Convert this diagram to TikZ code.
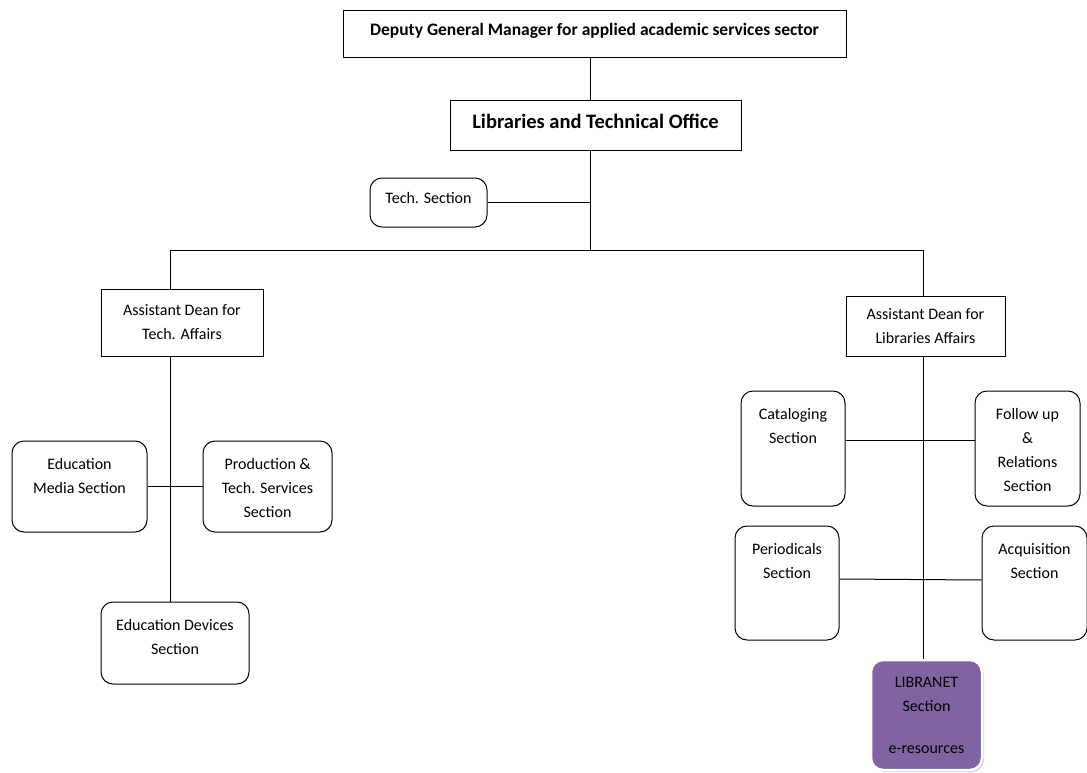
\documentclass[tikz,border=0pt]{standalone}
\usepackage{fontspec}
\setmainfont{Carlito}
\usetikzlibrary{shadows}
\definecolor{libpurple}{HTML}{8064A2}
\tikzset{
  office/.style={draw, line width=1pt, inner sep=0pt},
  section/.style={draw, line width=1pt, rounded corners=12pt, inner sep=0pt},
  toptext/.style={label={[anchor=north, yshift=-18pt, inner sep=0pt, align=center]north:#1}},
  link/.style={line width=1pt}
}
\begin{document}
\begin{tikzpicture}[x=1pt,y=-1pt,font=\fontsize{16}{24}\selectfont]
\useasboundingbox (0,0) rectangle (1087,773);

% top of the chart
\node[office, minimum width=503pt, minimum height=47pt, text depth=10pt, font=\fontsize{17.5}{20}\selectfont\bfseries] (dgm) at (594.5,34.5) {Deputy General Manager for applied academic services sector};
\node[office, minimum width=291pt, minimum height=50pt, text depth=9pt, font=\fontsize{20.5}{24}\selectfont\bfseries] (lto) at (595.5,126) {Libraries and Technical Office};
\node[section, minimum width=117pt, minimum height=49pt, text depth=9pt] (tech) at (428.5,202.5) {Tech. Section};

\coordinate (trunk) at (590,250);
\coordinate (lspine) at (170,250);
\coordinate (rspine) at (923,250);

% the two deans
\node[office, minimum width=162pt, minimum height=67pt, align=center] (adt) at (182,322.5) {Assistant Dean for\\Tech. Affairs};
\node[office, minimum width=159pt, minimum height=60pt, align=center] (adl) at (925.5,326) {Assistant Dean for\\Libraries Affairs};

% tech side
\node[section, minimum width=135pt, minimum height=91pt, toptext={Education\\Media Section}] (edm) at (79.5,486.5) {};
\node[section, minimum width=129pt, minimum height=91pt, toptext={Production \&\\Tech. Services\\Section}] (prd) at (267.5,486.5) {};
\node[section, minimum width=148pt, minimum height=82pt, toptext={Education Devices\\Section}] (edv) at (175,643) {};

% libraries side
\node[section, minimum width=104pt, minimum height=115pt, toptext={Cataloging\\Section}] (cat) at (793,448.5) {};
\node[section, minimum width=105pt, minimum height=115pt, toptext={Follow up\\\&\\Relations\\Section}] (fol) at (1027.5,448.5) {};
\node[section, minimum width=104pt, minimum height=114pt, toptext={Periodicals\\Section}] (per) at (787,583) {};
\node[section, minimum width=105pt, minimum height=114pt, toptext={Acquisition\\Section}] (acq) at (1034.5,583) {};
\node[section, draw=white, line width=2.5pt, fill=libpurple, drop shadow={opacity=0.35, shadow xshift=2pt, shadow yshift=-2pt},
  minimum width=111pt, minimum height=110pt, toptext={LIBRANET\\Section\\[18pt]e-resources}] (lnet) at (926.5,715) {};

% connectors
\draw[link] (dgm.south -| trunk) -- (lto.north -| trunk);
\draw[link] (lto.south -| trunk) -- (trunk);
\draw[link] (tech.east) -- (tech.east -| trunk);
\draw[link] (lspine |- adt.north) -- (lspine) -- (rspine) -- (rspine |- adl.north);
\draw[link] (lspine |- adt.south) -- (lspine |- edv.north);
\draw[link] (edm.east) -- (prd.west);
\draw[link] (rspine |- adl.south) -- (rspine |- lnet.north);
\draw[link] ([yshift=8pt]cat.east) -- ([yshift=8pt]fol.west);
\draw[link] ([yshift=4pt]per.east) -- ([yshift=3pt]acq.west);
\end{tikzpicture}
\end{document}
